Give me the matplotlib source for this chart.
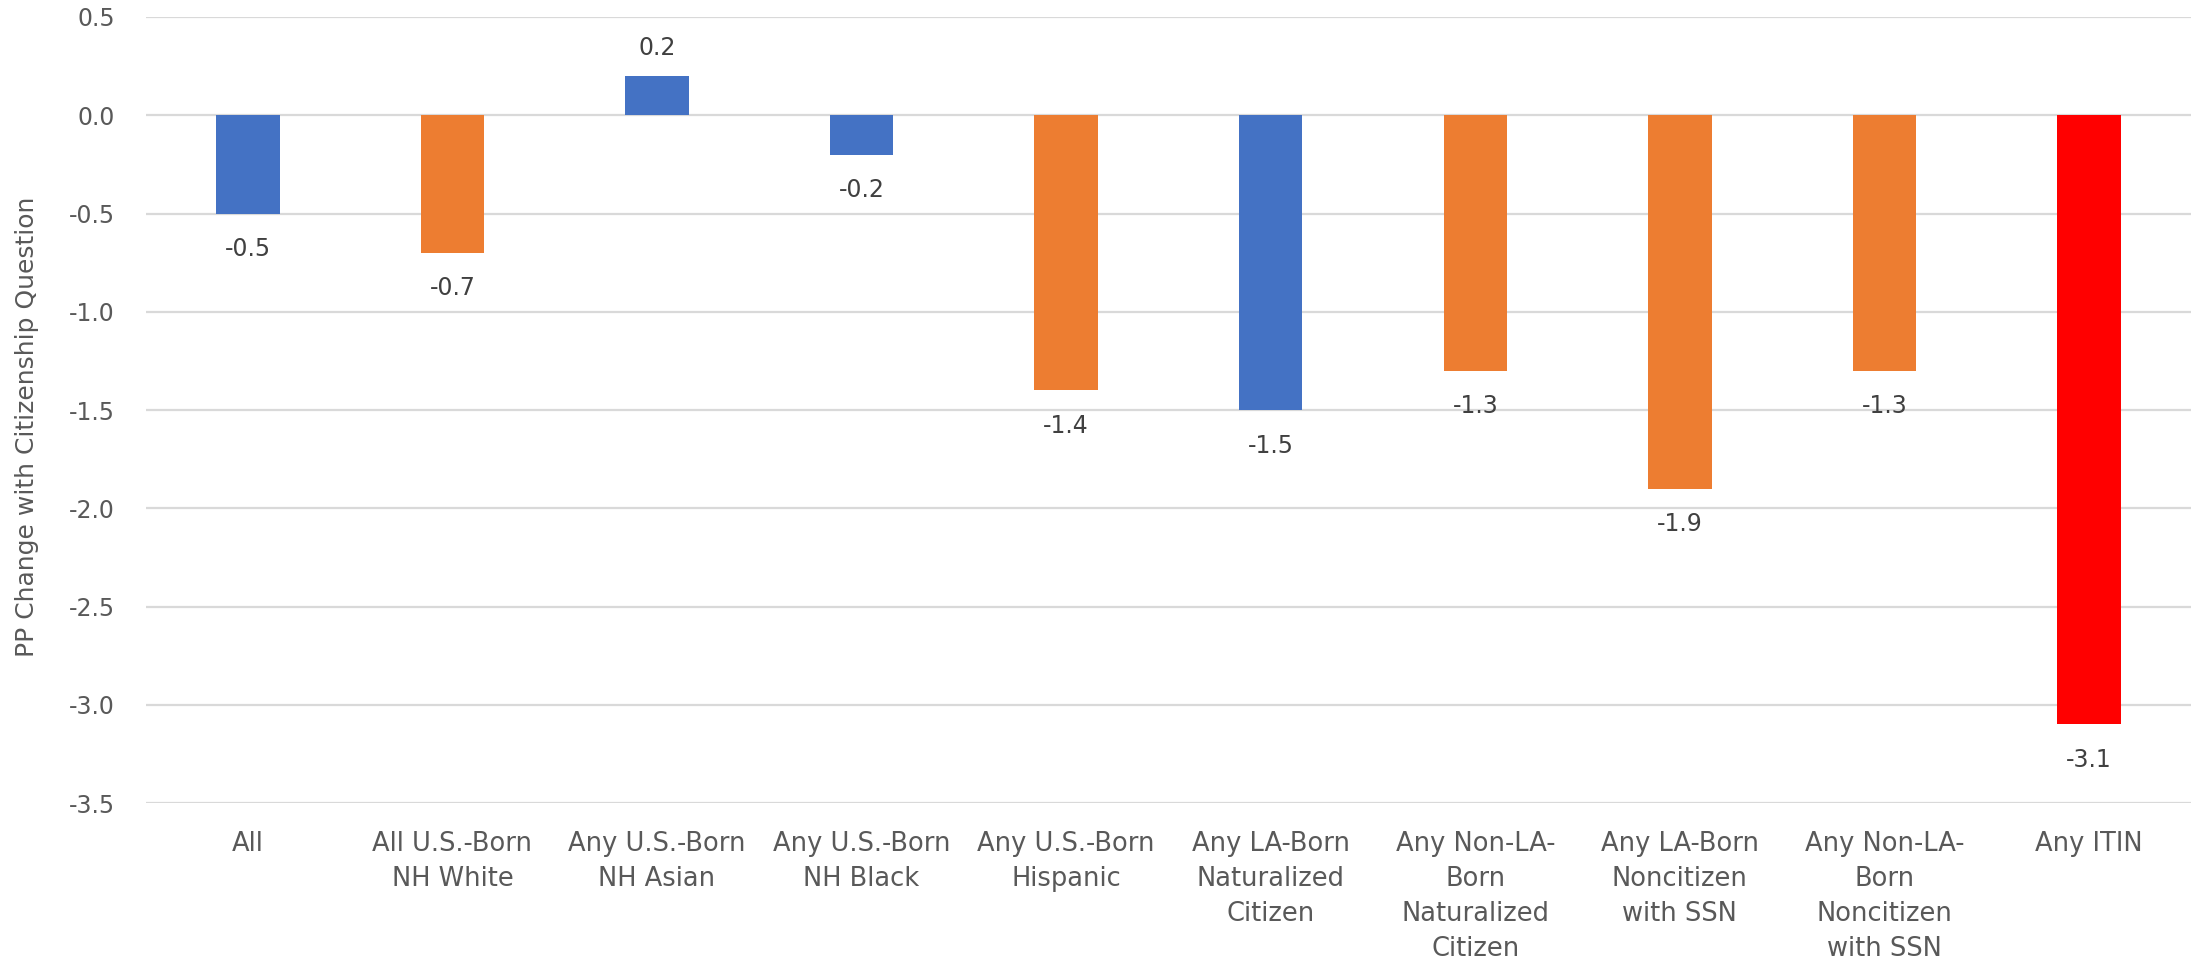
import matplotlib
matplotlib.use("Agg")
import matplotlib.pyplot as plt

categories = ["All", "All U.S.-Born\nNH White", "Any U.S.-Born\nNH Asian", "Any U.S.-Born\nNH Black",
              "Any U.S.-Born\nHispanic", "Any LA-Born\nNaturalized\nCitizen", "Any Non-LA-\nBorn\nNaturalized\nCitizen",
              "Any LA-Born\nNoncitizen\nwith SSN", "Any Non-LA-\nBorn\nNoncitizen\nwith SSN", "Any ITIN"]
values = [-0.5, -0.7, 0.2, -0.2, -1.4, -1.5, -1.3, -1.9, -1.3, -3.1]
colors = ["#4472C4", "#ED7D31", "#4472C4", "#4472C4", "#ED7D31", "#4472C4", "#ED7D31", "#ED7D31", "#ED7D31", "#FF0000"]
yticks = [0.5, 0.0, -0.5, -1.0, -1.5, -2.0, -2.5, -3.0, -3.5]
ylabel = "PP Change with Citizenship Question"

FONT = ["DejaVu Sans"]

fig = plt.figure(figsize=(21.95, 9.6), dpi=100)
ax = fig.add_axes([0.0663, 0.1635, 0.932, 0.8188])
x = list(range(len(categories)))
ax.bar(x, values, width=0.31, color=colors, zorder=3)
ax.set_ylim(-3.5, 0.5)
ax.set_xlim(-0.5, len(categories) - 0.5)
ax.set_yticks(yticks)
ax.set_yticklabels([f"{v:.1f}" for v in yticks], fontsize=17, color="#595959", family=FONT)
ax.grid(axis="y", color="#D9D9D9", linewidth=1.6, zorder=0)
for s in ax.spines.values():
    s.set_visible(False)
ax.tick_params(axis="y", length=0, pad=22)
ax.set_xticks(x)
ax.set_xticklabels(categories, fontsize=18.5, color="#595959", family=FONT, linespacing=1.45, va="top")
ax.tick_params(axis="x", length=0, pad=20)
fig.text(27 / 2195, 1 - 427 / 960, ylabel, rotation=90, ha="center", va="center",
         fontsize=18, color="#595959", family=FONT)
for xi, v in zip(x, values):
    if v >= 0:
        ax.annotate(f"{v:.1f}", (xi, v), xytext=(0, 11.5), textcoords="offset points", ha="center", va="bottom",
                    fontsize=17, color="#404040", family=FONT)
    else:
        ax.annotate(f"{v:.1f}", (xi, v), xytext=(0, -17), textcoords="offset points", ha="center", va="top",
                    fontsize=17, color="#404040", family=FONT)
fig.savefig("out.png", dpi=100)
